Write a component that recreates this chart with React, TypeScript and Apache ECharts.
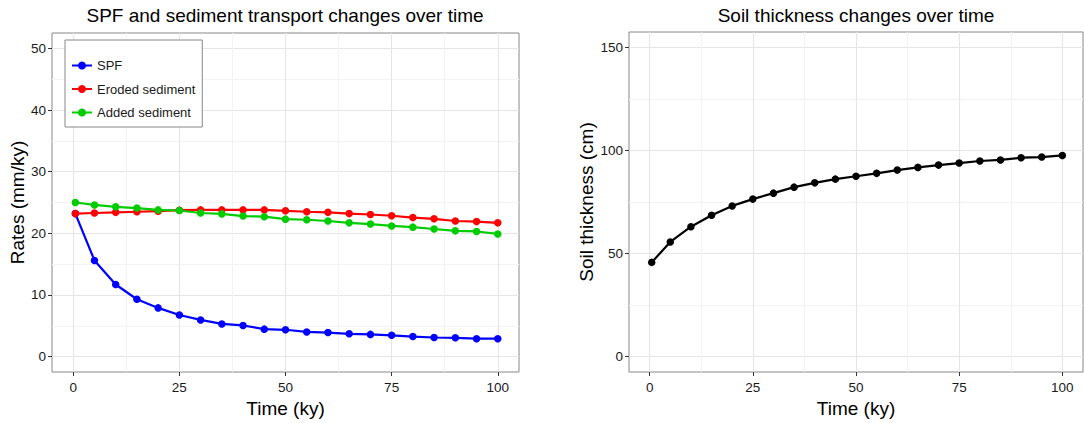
import React, { useEffect, useRef } from "react";
import * as echarts from "echarts";

const times = [0.5, 5, 10, 15, 20, 25, 30, 35, 40, 45, 50, 55, 60, 65, 70, 75, 80, 85, 90, 95, 100];
const spf = [23.2, 15.6, 11.7, 9.3, 7.9, 6.75, 5.95, 5.3, 5.05, 4.45, 4.35, 4.0, 3.9, 3.7, 3.6, 3.45, 3.25, 3.1, 3.05, 2.9, 2.9];
const eroded = [23.2, 23.3, 23.4, 23.5, 23.6, 23.75, 23.8, 23.8, 23.8, 23.8, 23.65, 23.5, 23.4, 23.2, 23.05, 22.85, 22.55, 22.35, 22.0, 21.9, 21.7];
const added = [25.0, 24.6, 24.3, 24.1, 23.8, 23.7, 23.3, 23.15, 22.8, 22.7, 22.3, 22.2, 22.0, 21.7, 21.5, 21.2, 21.0, 20.7, 20.4, 20.3, 19.9];
const soil = [45.7, 55.6, 63.0, 68.6, 73.1, 76.4, 79.3, 82.2, 84.3, 86.1, 87.5, 88.9, 90.5, 91.8, 92.9, 93.9, 94.9, 95.4, 96.5, 96.8, 97.6];

const xMajor = [0, 25, 50, 75, 100];
const xMinor = [12.5, 37.5, 62.5, 87.5];
const rateMajor = [0, 10, 20, 30, 40, 50];
const rateMinor = [5, 15, 25, 35, 45];
const soilMajor = [0, 50, 100, 150];
const soilMinor = [25, 75, 125];

const FONT = "'Liberation Sans', Arial, sans-serif";
const MAJOR = "#e6e6e6";
const MINOR = "#f3f3f3";

function pairs(ys: number[]) {
  return ys.map((y, i) => [times[i], y]);
}

function mainX(gridIndex: number, name: string) {
  return {
    type: "value",
    gridIndex,
    min: -5,
    max: 105,
    name,
    nameLocation: "middle",
    nameGap: 27,
    nameTextStyle: { fontFamily: FONT, fontSize: 19, color: "#000" },
    axisLine: { show: false, onZero: false },
    axisTick: { show: true, length: 4, lineStyle: { color: "#333" }, customValues: xMajor },
    axisLabel: { show: true, margin: 8, fontFamily: FONT, fontSize: 13.5, color: "#1a1a1a", customValues: xMajor },
    splitLine: { show: true, lineStyle: { color: MAJOR, width: 1.2 } },
  };
}
function minorX(gridIndex: number) {
  return {
    type: "value",
    gridIndex,
    min: -5,
    max: 105,
    axisLine: { show: false, onZero: false },
    axisTick: { show: false, customValues: xMinor },
    axisLabel: { show: false, customValues: xMinor },
    splitLine: { show: true, lineStyle: { color: MINOR, width: 1 } },
  };
}
function mainY(gridIndex: number, name: string, min: number, max: number, vals: number[], gap: number) {
  return {
    type: "value",
    gridIndex,
    min,
    max,
    name,
    nameLocation: "middle",
    nameGap: gap,
    nameTextStyle: { fontFamily: FONT, fontSize: 19, color: "#000" },
    axisLine: { show: false, onZero: false },
    axisTick: { show: true, length: 4, lineStyle: { color: "#333" }, customValues: vals },
    axisLabel: { show: true, margin: 6, fontFamily: FONT, fontSize: 13.5, color: "#1a1a1a", customValues: vals },
    splitLine: { show: true, lineStyle: { color: MAJOR, width: 1.2 } },
  };
}
function minorY(gridIndex: number, min: number, max: number, vals: number[]) {
  return {
    type: "value",
    gridIndex,
    min,
    max,
    axisLine: { show: false, onZero: false },
    axisTick: { show: false, customValues: vals },
    axisLabel: { show: false, customValues: vals },
    splitLine: { show: true, lineStyle: { color: MINOR, width: 1 } },
  };
}

function lineSeries(name: string, ys: number[], color: string, xi: number, yi: number) {
  return {
    type: "line",
    name,
    xAxisIndex: xi,
    yAxisIndex: yi,
    data: pairs(ys),
    symbol: "circle",
    symbolSize: 7.5,
    showAllSymbol: true,
    lineStyle: { color, width: 2.2 },
    itemStyle: { color },
    z: 5,
  };
}

export default function App() {
  const ref = useRef<HTMLDivElement>(null);
  useEffect(() => {
    if (!ref.current) return;
    const chart = echarts.init(ref.current, undefined, { renderer: "svg" });
    chart.setOption({
      animation: false,
      backgroundColor: "#fff",
      textStyle: { fontFamily: FONT },
      title: [
        {
          text: "SPF and sediment transport changes over time",
          left: 285,
          top: 6,
          padding: 0,
          textAlign: "center",
          textStyle: { fontFamily: FONT, fontSize: 19, fontWeight: "normal", color: "#000" },
        },
        {
          text: "Soil thickness changes over time",
          left: 856,
          top: 6,
          padding: 0,
          textAlign: "center",
          textStyle: { fontFamily: FONT, fontSize: 19, fontWeight: "normal", color: "#000" },
        },
      ],
      legend: {
        orient: "vertical",
        left: 65,
        top: 40,
        padding: [19, 7, 8, 6],
        itemWidth: 20,
        itemHeight: 10,
        itemGap: 10.5,
        borderColor: "#888",
        borderWidth: 1,
        backgroundColor: "#fff",
        textStyle: { fontFamily: FONT, fontSize: 13, color: "#1a1a1a" },
        data: ["SPF", "Eroded sediment", "Added sediment"],
      },
      grid: [
        { left: 52, top: 33, width: 467, height: 342, show: true, borderColor: "#888", borderWidth: 1, backgroundColor: "#fff" },
        { left: 629, top: 32, width: 454, height: 343, show: true, borderColor: "#888", borderWidth: 1, backgroundColor: "#fff" },
      ],
      xAxis: [mainX(0, "Time (ky)"), minorX(0), mainX(1, "Time (ky)"), minorX(1)],
      yAxis: [
        mainY(0, "Rates (mm/ky)", -2.5, 52.5, rateMajor, 19),
        minorY(0, -2.5, 52.5, rateMinor),
        mainY(1, "Soil thickness (cm)", -7.5, 157.5, soilMajor, 33),
        minorY(1, -7.5, 157.5, soilMinor),
      ],
      series: [
        lineSeries("SPF", spf, "#0000FF", 0, 0),
        lineSeries("Eroded sediment", eroded, "#FF0000", 0, 0),
        lineSeries("Added sediment", added, "#00CC00", 0, 0),
        lineSeries("Soil thickness", soil, "#000000", 2, 2),
      ],
    });
    return () => chart.dispose();
  }, []);
  return <div ref={ref} style={{ position: "fixed", left: 0, top: 0, width: 1084, height: 423 }} />;
}
